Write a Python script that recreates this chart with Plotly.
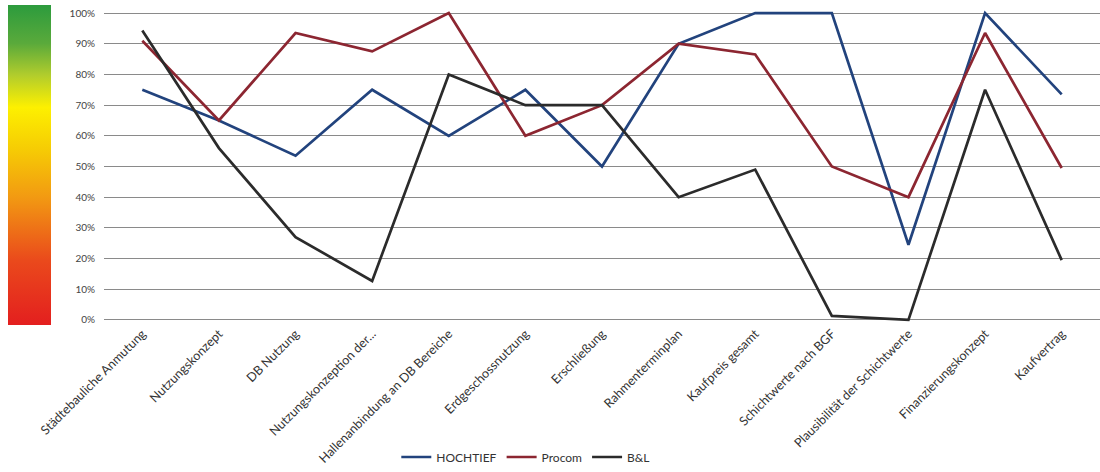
import plotly.graph_objects as go

categories = [
    "Städtebauliche Anmutung", "Nutzungskonzept", "DB Nutzung",
    "Nutzungskonzeption der...", "Hallenanbindung an DB Bereiche",
    "Erdgeschossnutzung", "Erschließung", "Rahmenterminplan",
    "Kaufpreis gesamt", "Schichtwerte nach BGF",
    "Plausibilität der Schichtwerte", "Finanzierungskonzept", "Kaufvertrag",
]
hochtief = [0.75, 0.65, 0.535, 0.75, 0.60, 0.75, 0.50, 0.90, 1.00, 1.00, 0.245, 1.00, 0.735]
procom = [0.91, 0.65, 0.935, 0.875, 1.00, 0.60, 0.70, 0.90, 0.865, 0.50, 0.40, 0.935, 0.495]
bl = [0.943, 0.56, 0.27, 0.127, 0.80, 0.70, 0.70, 0.40, 0.49, 0.013, 0.0, 0.75, 0.195]
y_ticks = [0, 0.1, 0.2, 0.3, 0.4, 0.5, 0.6, 0.7, 0.8, 0.9, 1.0]

series = [
    ("HOCHTIEF", hochtief, "#22437d"),
    ("Procom", procom, "#8c2631"),
    ("B&L", bl, "#2b2b2b"),
]

fig = go.Figure()
for name, vals, col in series:
    fig.add_trace(go.Scatter(
        x=list(range(len(categories))), y=vals, name=name, mode="lines",
        line=dict(color=col, width=2.7),
    ))

# gradient scale bar on the left (colour legend)
fig.add_trace(go.Scatter(
    x=[None], y=[None], mode="markers", showlegend=False, hoverinfo="skip",
    marker=dict(
        color=[0, 1], cmin=0, cmax=1, showscale=True,
        colorscale=[
            [0.0, "#e31f1f"], [0.2, "#ea491c"], [0.4, "#f29a12"],
            [0.55, "#f6cc04"], [0.68, "#fdf000"], [0.78, "#b2cd2c"],
            [0.88, "#5aaa3b"], [1.0, "#2c9b3d"],
        ],
        colorbar=dict(
            xref="container", yref="container", x=8 / 1100, xanchor="left",
            y=1 - 7 / 472, yanchor="top", thickness=43, thicknessmode="pixels",
            len=320, lenmode="pixels", outlinewidth=0, showticklabels=False,
            ticks="", xpad=0, ypad=0,
        ),
    ),
))

fig.update_layout(
    width=1100, height=472,
    margin=dict(l=104, r=0, t=10, b=149),
    paper_bgcolor="white", plot_bgcolor="white",
    font=dict(family="Lato", color="#333333"),
    showlegend=True,
    legend=dict(
        orientation="h", xref="container", yref="container",
        x=0.478, xanchor="center", y=1 - 457 / 472, yanchor="middle",
        font=dict(size=12, color="#333333"), itemwidth=30,
    ),
    xaxis=dict(
        range=[-0.5, 12.5], tickmode="array",
        tickvals=list(range(len(categories))), ticktext=categories,
        tickangle=-45, tickfont=dict(size=12.6, color="#333333"),
        showgrid=False, zeroline=False, showline=False, ticks="",
        automargin=False,
    ),
    yaxis=dict(
        range=[-0.01, 1.01], tickmode="array", tickvals=y_ticks,
        tickformat=".0%", tickfont=dict(size=10, color="#444444"),
        showgrid=True, gridcolor="#8a8a8a", gridwidth=1,
        zeroline=False, showline=False, ticks="", ticklabelstandoff=8,
        automargin=False,
    ),
)

fig.write_html("out.html")
